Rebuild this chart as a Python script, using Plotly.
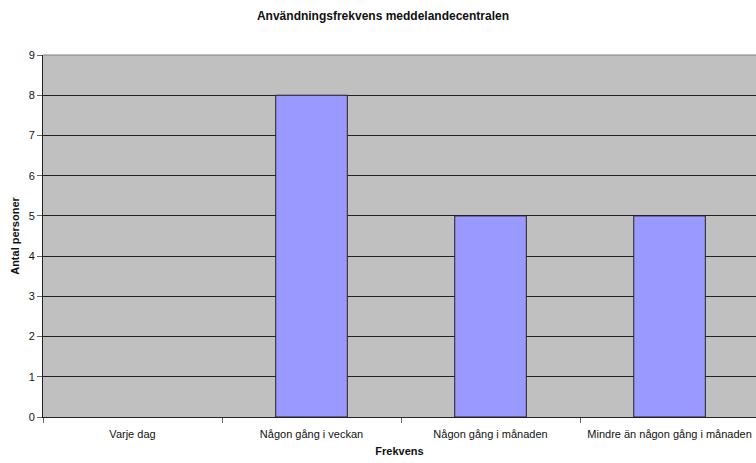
import plotly.graph_objects as go

categories = ["Varje dag", "Någon gång i veckan", "Någon gång i månaden",
              "Mindre än någon gång i månaden"]
antal = [0, 8, 5, 5]
y_ticks = list(range(0, 10))

FONT = "Liberation Sans, Arial, sans-serif"

# empty categories get no outline
outline_widths = [1 if v > 0 else 0 for v in antal]

fig = go.Figure(
    go.Bar(
        x=categories,
        y=antal,
        marker=dict(color="#9999FF", line=dict(color="#222222", width=outline_widths)),
        width=0.4,
    )
)

fig.update_layout(
    width=756,
    height=463,
    margin=dict(l=43, r=0, t=55, b=46),
    paper_bgcolor="white",
    plot_bgcolor="#C0C0C0",
    showlegend=False,
    font=dict(family=FONT, size=11, color="#111111"),
    title=dict(
        text="<b>Användningsfrekvens meddelandecentralen</b>",
        x=383 / 756,
        xref="container",
        xanchor="center",
        y=1 - 16 / 463,
        yref="container",
        yanchor="middle",
        font=dict(family=FONT, size=12, color="#111111"),
    ),
    bargap=0.6,
)

fig.update_xaxes(
    type="category",
    range=[-0.5, 3.483],
    tickson="boundaries",
    ticks="outside",
    ticklen=5,
    tickcolor="#666666",
    ticklabelstandoff=7,
    showline=True,
    linecolor="#222222",
    linewidth=1,
    showgrid=False,
    tickfont=dict(size=11, color="#111111"),
    title=dict(text="<b>Frekvens</b>", font=dict(size=11, color="#111111"), standoff=8),
)

fig.update_yaxes(
    range=[0, 9],
    tickvals=y_ticks,
    ticks="outside",
    ticklen=5,
    tickcolor="#666666",
    showline=True,
    linecolor="#222222",
    linewidth=1,
    showgrid=True,
    gridcolor="#222222",
    gridwidth=1,
    zeroline=False,
    tickfont=dict(size=11, color="#111111"),
    title=dict(text="<b>Antal personer</b>", font=dict(size=11, color="#111111"), standoff=6),
)

# grey border along the top of the plot area
fig.add_shape(type="line", xref="paper", yref="paper", x0=0, x1=1, y0=1, y1=1,
              line=dict(color="#808080", width=1))

fig.write_html("out.html")
